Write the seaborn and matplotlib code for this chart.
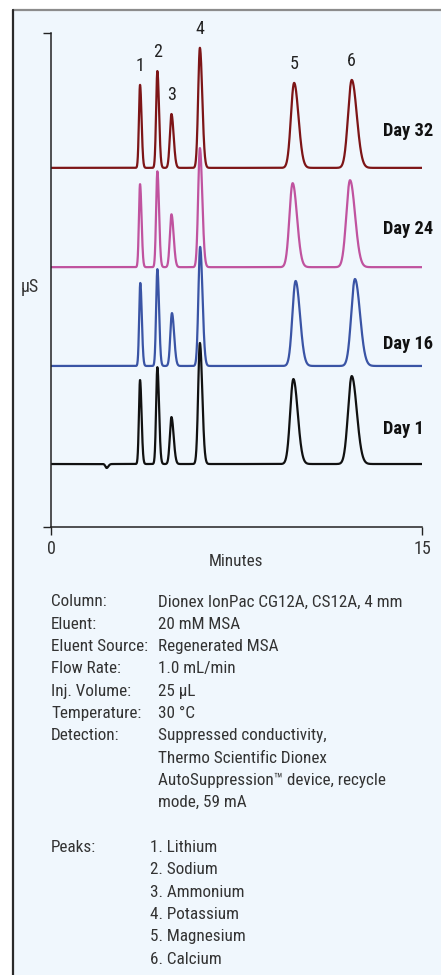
import matplotlib
matplotlib.use("Agg")
import matplotlib.pyplot as plt
from matplotlib.lines import Line2D
from matplotlib.patches import Rectangle
import numpy as np
import pandas as pd
import seaborn as sns

# traces, bottom to top
days = ['Day 1', 'Day 16', 'Day 24', 'Day 32']
day_colors = ['#111111', '#3a54a5', '#c0539f', '#7d1517']
baselines = [12.75, 32.6, 52.6, 72.7]
day_label_y = [19.8, 37.0, 60.3, 80.2]

# peaks: retention time (min) and height (uS, arbitrary)
peak_numbers = ['1', '2', '3', '4', '5', '6']
ret_day1 = [3.60, 4.30, 4.87, 6.02, 9.80, 12.16]
ret_day16 = [3.61, 4.30, 4.89, 6.03, 9.89, 12.29]
ret_day24 = [3.60, 4.30, 4.87, 6.02, 9.77, 12.09]
ret_day32 = [3.60, 4.30, 4.87, 6.02, 9.83, 12.16]
height_day1 = [17.0, 19.6, 9.5, 24.5, 17.2, 17.8]
height_day16 = [16.8, 19.6, 10.7, 24.1, 17.2, 17.6]
height_day24 = [16.8, 19.4, 10.7, 24.1, 17.0, 17.6]
height_day32 = [16.8, 19.6, 10.9, 24.3, 17.2, 17.8]
peak_sigma = [0.045, 0.05, 0.065, 0.07, 0.13, 0.15]
dip_time = 2.25
dip_depth = [-0.8, 0.0, 0.0, 0.0]

cond_labels = ['Column:', 'Eluent:', 'Eluent Source:', 'Flow Rate:', 'Inj. Volume:',
               'Temperature:', 'Detection:', '', '', '']
cond_values = ['Dionex IonPac CG12A, CS12A, 4 mm', '20 mM MSA', 'Regenerated MSA',
               '1.0 mL/min', '25 µL', '30 °C', 'Suppressed conductivity,',
               'Thermo Scientific Dionex', 'AutoSuppression™ device, recycle',
               'mode, 59 mA']
peak_names = ['Lithium', 'Sodium', 'Ammonium', 'Potassium', 'Magnesium', 'Calcium']

ret_all = [ret_day1, ret_day16, ret_day24, ret_day32]
height_all = [height_day1, height_day16, height_day24, height_day32]


def peak_shape(t, center, height, sigma):
    # slightly tailing gaussian
    s = np.where(t < center, sigma, sigma * 1.35)
    return height * np.exp(-0.5 * ((t - center) / s) ** 2)


t = np.linspace(0, 15, 3001)
frames = []
for i, day in enumerate(days):
    sig = np.full_like(t, baselines[i])
    for rt, h, s in zip(ret_all[i], height_all[i], peak_sigma):
        sig = sig + peak_shape(t, rt, h, s)
    sig = sig + peak_shape(t, dip_time, dip_depth[i], 0.05)
    frames.append(pd.DataFrame({'time': t, 'signal': sig, 'day': day}))
df = pd.concat(frames, ignore_index=True)

sns.set_style('white')
plt.rcParams['font.family'] = ['Roboto Condensed', 'Roboto', 'DejaVu Sans']
W, H = 441, 975
TXT = '#333333'
FS = 12.3


def fx(px):
    return px / W


def fy(py):
    return 1 - py / H


fig = plt.figure(figsize=(W / 100, H / 100), dpi=100)
fig.patch.set_facecolor('white')
fig.patches.append(Rectangle((fx(13), 0), 1 - fx(13), fy(10), transform=fig.transFigure,
                             facecolor='#f0f7fd', edgecolor='none', zorder=-10))
fig.lines.append(Line2D([fx(13), 1], [fy(10), fy(10)], transform=fig.transFigure,
                        color='#8c8c8c', lw=1.6, zorder=-5))
fig.lines.append(Line2D([fx(13), fx(13)], [0, fy(10)], transform=fig.transFigure,
                        color='#2a2a2a', lw=1.6, zorder=-5))

ax = fig.add_axes([fx(51), fy(527), (422 - 51) / W, (527 - 33) / H])
ax.set_facecolor('none')

sns.lineplot(data=df, x='time', y='signal', hue='day', hue_order=days,
             palette=day_colors, estimator=None, sort=False, legend=False,
             linewidth=1.6, ax=ax)

ax.set_xlim(0, 15)
ax.set_ylim(0, 100)
ax.set_xticks([0, 15])
ax.set_xticklabels(['0', '15'])
ax.set_yticks([0, 100])
ax.set_yticklabels([])
ax.set_xlabel('')
ax.set_ylabel('')
for side in ['top', 'right']:
    ax.spines[side].set_visible(False)
for side in ['left', 'bottom']:
    ax.spines[side].set_color('#222222')
    ax.spines[side].set_linewidth(1.1)
ax.tick_params(axis='both', direction='out', length=5.8, width=1.0, color='#222222',
               labelsize=13, labelcolor=TXT, pad=3.5, bottom=True, left=True)

# peak numbers above the top trace
top = len(days) - 1
for num, rt, h in zip(peak_numbers, ret_all[top], height_all[top]):
    ax.annotate(num, (rt, baselines[top] + h), xytext=(0, 7), textcoords='offset points',
                ha='center', va='bottom', fontsize=13, color='#222222')

for i, day in enumerate(days):
    ax.text(13.42, day_label_y[i], day, ha='left', va='center', fontsize=13.2,
            fontweight='bold', color='#111111')

fig.text(fx(30), fy(287), 'µS', ha='center', va='center', fontsize=13, color=TXT)
fig.text(fx(236), fy(561), 'Minutes', ha='center', va='center', fontsize=FS, color=TXT)

step = 22.3
for i, (lab, val) in enumerate(zip(cond_labels, cond_values)):
    yb = fy(606.5 + i * step)
    fig.text(fx(51), yb, lab, ha='left', va='baseline', fontsize=FS, color=TXT)
    fig.text(fx(158), yb, val, ha='left', va='baseline', fontsize=FS, color=TXT)

fig.text(fx(51), fy(852.2), 'Peaks:', ha='left', va='baseline', fontsize=FS, color=TXT)
for i, name in enumerate(peak_names):
    fig.text(fx(150), fy(852.2 + i * step), f'{i + 1}. {name}', ha='left', va='baseline',
             fontsize=FS, color=TXT)

fig.savefig('out.png', dpi=100, facecolor=fig.get_facecolor())
